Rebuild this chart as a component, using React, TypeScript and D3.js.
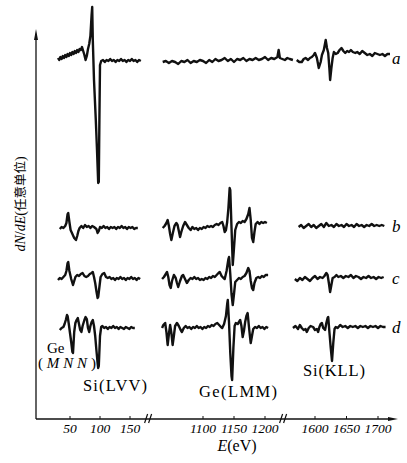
import React from "react";
import { scaleLinear, line } from "d3";

// energies (eV) and dN/dE readings, relative to each trace's own baseline
const aLow = [[30,2],[32,0],[34,3],[36,1],[38,4],[40,2],[42,5],[44,3],[46,6],[48,4],[50,7],[52,5],[54,8],[56,6],[58,9],[60,7],[62,10],[64,8],[66,11],[68,10],[70,13],[72,9],[74,5],[76,0],[78,4],[80,11],[82,16],[84,24],[86,45],[87,53],[88,20],[90,-20],[93,-60],[95,-90],[97,-123],[98,-122],[99,-60],[100,-5],[102,-1],[105,0],[108,-2],[111,0],[114,-1],[117,1],[120,-1],[123,0],[126,-2],[129,0],[132,-1],[135,1],[138,-1],[141,0],[144,-2],[147,0],[150,-1],[153,1],[156,-1],[159,0],[162,-2],[165,0],[168,-1]];
const aMid = [[1035,-2],[1040,-1],[1045,-3],[1050,-1],[1055,-2],[1060,-4],[1065,-1],[1070,-2],[1075,0],[1080,-3],[1085,-1],[1090,-2],[1095,0],[1100,-1],[1105,-3],[1110,0],[1115,-2],[1120,1],[1125,-1],[1130,0],[1135,2],[1140,-1],[1145,1],[1150,-2],[1155,1],[1160,0],[1165,2],[1170,-1],[1175,1],[1180,0],[1185,2],[1190,0],[1195,1],[1200,3],[1205,0],[1210,2],[1215,1],[1220,3],[1222,10],[1224,2],[1228,1],[1232,0],[1236,2],[1240,1],[1245,0]];
const aHigh = [[1571,0],[1575,-2],[1579,-2],[1582,1],[1585,2],[1589,0],[1592,2],[1595,3],[1598,5],[1600,7],[1603,2],[1606,-8],[1609,-2],[1611,5],[1614,10],[1617,20],[1619,12],[1621,7],[1623,-10],[1624,-20],[1626,-8],[1628,2],[1630,8],[1633,6],[1636,7],[1639,10],[1642,12],[1645,9],[1648,7],[1651,9],[1654,8],[1657,10],[1660,8],[1664,7],[1667,8],[1671,6],[1675,9],[1679,7],[1683,5],[1687,6],[1691,4],[1695,7],[1699,6],[1703,5],[1707,6],[1711,4],[1715,6],[1719,6]];

const bLow = [[33,-1],[36,1],[39,0],[42,2],[44,5],[46,14],[47,15],[49,6],[51,-2],[54,-6],[57,-10],[60,-12],[62,-8],[64,-3],[66,0],[69,2],[72,0],[75,3],[78,1],[81,2],[84,0],[87,2],[90,1],[92,0],[94,-1],[96,-5],[98,-3],[100,1],[103,0],[106,2],[109,0],[112,1],[115,-1],[118,1],[121,0],[124,1],[127,-1],[130,1],[133,0],[136,2],[139,0],[142,1],[145,-1],[148,1],[151,0],[154,1],[157,-1],[160,0],[163,0]];
const bMid = [[1035,0],[1038,2],[1041,5],[1043,8],[1045,2],[1047,-6],[1049,-12],[1051,-6],[1054,2],[1057,5],[1059,3],[1061,-3],[1063,-9],[1065,-4],[1068,2],[1071,6],[1074,3],[1077,0],[1080,-2],[1083,1],[1086,-1],[1089,0],[1092,-2],[1095,0],[1098,-1],[1101,1],[1104,0],[1107,2],[1110,1],[1113,2],[1116,1],[1119,3],[1122,4],[1125,3],[1128,5],[1131,6],[1133,2],[1135,-4],[1137,-2],[1139,6],[1141,20],[1143,40],[1144,38],[1146,0],[1148,-37],[1150,-20],[1152,-2],[1155,4],[1158,6],[1161,5],[1164,7],[1167,6],[1170,9],[1173,14],[1175,20],[1177,8],[1179,-10],[1181,-14],[1183,-4],[1185,4],[1188,6],[1191,4],[1194,6],[1197,5],[1200,6],[1203,5]];
const bHigh = [[1574,1],[1578,3],[1582,0],[1586,2],[1590,4],[1594,1],[1598,3],[1602,0],[1606,2],[1610,4],[1614,1],[1618,5],[1622,2],[1626,3],[1630,1],[1634,4],[1638,2],[1642,3],[1646,1],[1650,4],[1654,2],[1658,3],[1662,1],[1666,4],[1670,2],[1674,3],[1678,1],[1682,3],[1686,2],[1690,4],[1694,2],[1698,3],[1702,2],[1706,3],[1710,2]];

const cLow = [[30,-1],[33,1],[36,0],[39,2],[42,4],[44,8],[46,16],[47,17],[49,8],[52,0],[55,-6],[57,-2],[59,2],[62,4],[65,3],[68,5],[71,6],[74,3],[77,2],[80,3],[83,5],[86,6],[88,7],[90,2],[92,-4],[94,-12],[96,-19],[97,-18],[99,-8],[101,2],[104,5],[107,6],[110,2],[113,1],[116,2],[119,0],[122,1],[125,-1],[128,1],[131,0],[134,2],[137,0],[140,1],[143,-1],[146,1],[149,0],[152,2],[155,0],[158,1],[161,-1],[164,1],[167,0]];
const cMid = [[1034,0],[1037,2],[1040,5],[1042,7],[1044,2],[1046,-6],[1048,-9],[1050,-2],[1053,4],[1056,1],[1058,-4],[1060,-8],[1063,-2],[1066,3],[1068,4],[1071,0],[1074,-4],[1077,-1],[1080,1],[1083,0],[1086,2],[1089,0],[1092,1],[1095,-1],[1098,0],[1101,-1],[1104,1],[1107,0],[1110,2],[1113,1],[1116,3],[1119,2],[1122,4],[1125,6],[1127,7],[1130,3],[1133,1],[1135,0],[1138,8],[1141,20],[1142,22],[1144,5],[1146,-15],[1148,-26],[1150,-15],[1152,-3],[1155,-1],[1158,1],[1161,0],[1164,2],[1167,3],[1170,6],[1173,11],[1175,8],[1177,-2],[1179,-9],[1181,-11],[1183,-4],[1186,1],[1189,2],[1192,1],[1195,3],[1198,2],[1201,4],[1205,4]];
const cHigh = [[1568,0],[1572,-2],[1576,1],[1580,-1],[1584,2],[1588,0],[1592,-2],[1596,1],[1600,3],[1604,0],[1608,2],[1612,1],[1615,3],[1618,6],[1620,4],[1622,-4],[1624,-13],[1626,-6],[1628,1],[1631,2],[1634,4],[1637,2],[1641,3],[1645,1],[1649,3],[1653,2],[1657,4],[1661,1],[1665,3],[1669,2],[1673,0],[1677,2],[1681,1],[1685,3],[1689,1],[1693,2],[1697,0],[1701,2],[1705,1],[1709,2]];

const dLow = [[33,-2],[36,0],[39,1],[41,4],[43,8],[45,13],[46,12],[48,4],[50,-5],[52,-14],[54,-24],[55,-25],[57,-4],[59,5],[61,8],[63,10],[65,4],[67,-2],[69,-4],[71,2],[74,8],[76,11],[78,9],[80,0],[82,-4],[84,2],[86,6],[88,8],[90,2],[92,-8],[94,-22],[96,-35],[97,-40],[98,-38],[100,-8],[102,1],[104,2],[107,0],[110,1],[113,-1],[116,1],[119,0],[122,2],[125,0],[128,1],[131,-1],[134,1],[137,0],[140,-1],[143,1],[146,0],[149,-1],[152,1],[155,0],[158,0]];
const dMid = [[1034,0],[1036,3],[1039,5],[1041,-4],[1043,-17],[1045,-6],[1047,3],[1049,-5],[1051,-17],[1053,-8],[1055,2],[1058,5],[1061,2],[1064,-2],[1066,-4],[1069,0],[1072,2],[1075,0],[1078,1],[1081,-1],[1084,1],[1087,0],[1090,2],[1093,0],[1096,1],[1099,-1],[1102,1],[1105,0],[1108,2],[1111,1],[1114,3],[1117,2],[1120,4],[1123,5],[1126,3],[1129,1],[1131,0],[1134,4],[1137,12],[1139,24],[1140,28],[1142,5],[1144,-25],[1146,-48],[1147,-52],[1149,-20],[1151,2],[1153,5],[1156,4],[1158,6],[1160,8],[1162,2],[1164,-9],[1166,-3],[1168,6],[1170,12],[1172,15],[1174,2],[1176,-10],[1177,-15],[1179,-8],[1181,-1],[1184,1],[1187,0],[1190,2],[1193,0],[1196,1],[1199,-1],[1202,1],[1205,0]];
const dHigh = [[1565,0],[1569,2],[1573,-1],[1576,3],[1579,0],[1582,-2],[1585,-1],[1587,-4],[1590,0],[1593,2],[1597,1],[1600,-2],[1603,-1],[1605,-4],[1607,1],[1609,4],[1611,5],[1613,0],[1616,-2],[1618,5],[1620,10],[1621,11],[1623,-5],[1625,-20],[1627,-33],[1629,-15],[1631,-1],[1633,1],[1636,0],[1640,3],[1644,1],[1648,2],[1652,0],[1656,2],[1660,1],[1664,2],[1668,0],[1672,2],[1676,1],[1680,2],[1684,0],[1688,2],[1692,1],[1696,2],[1700,0],[1704,2],[1708,1],[1712,1]];

const traceNames = ["a", "b", "c", "d"];
const traceOffsets = [359, 191, 140, 91];

const ticksLow = [50, 100, 150];
const ticksMid = [1100, 1150, 1200];
const ticksHigh = [1600, 1650, 1700];

const W = 407;
const H = 463;
const AXIS_X = 36;
const AXIS_Y = 419;

export default function App() {
  // broken energy axis: three linear pieces
  const xLow = scaleLinear().domain([50, 150]).range([70, 130]);
  const xMid = scaleLinear().domain([1100, 1200]).range([203, 265]);
  const xHigh = scaleLinear().domain([1600, 1700]).range([315, 378]);
  const y = scaleLinear().domain([0, 389]).range([AXIS_Y, 30]);

  const traces = [
    [aLow, aMid, aHigh],
    [bLow, bMid, bHigh],
    [cLow, cMid, cHigh],
    [dLow, dMid, dHigh],
  ];
  const pieces = [xLow, xMid, xHigh];

  const serif = "'Liberation Serif', 'DejaVu Serif', serif";
  const labelY = [64, 232, 284, 333];

  const tickGroups = [
    [xLow, ticksLow],
    [xMid, ticksMid],
    [xHigh, ticksHigh],
  ];

  const breaks = [xLow(181), xMid(1230)];

  return (
    <svg
      width={W}
      height={H}
      style={{ position: "absolute", left: 0, top: 0, background: "#fff" }}
      fontFamily={serif}
    >
      {traces.map((segs, i) =>
        segs.map((pts, j) => {
          const sx = pieces[j];
          const path = line()
            .x((d) => sx(d[0]))
            .y((d) => y(traceOffsets[i] + d[1]))(pts);
          return (
            <path
              key={`${i}-${j}`}
              d={path}
              fill="none"
              stroke="#111"
              strokeWidth={2.4}
              strokeLinejoin="round"
            />
          );
        })
      )}

      {traceNames.map((n, i) => (
        <text key={n} x={392} y={labelY[i]} fontSize={17} fontStyle="italic">
          {n}
        </text>
      ))}

      {/* axes */}
      <line x1={AXIS_X} y1={AXIS_Y} x2={AXIS_X} y2={34} stroke="#111" strokeWidth={1.3} />
      <path d={`M${AXIS_X - 2},40 L${AXIS_X},29 L${AXIS_X + 2},40 Z`} fill="#111" />
      <line x1={AXIS_X} y1={AXIS_Y} x2={392} y2={AXIS_Y} stroke="#111" strokeWidth={1.3} />
      <path d={`M388,${AXIS_Y - 2} L398,${AXIS_Y} L388,${AXIS_Y + 2} Z`} fill="#111" />

      {tickGroups.map(([sx, ticks], g) =>
        ticks.map((t) => (
          <g key={`${g}-${t}`}>
            <line x1={sx(t)} x2={sx(t)} y1={AXIS_Y} y2={AXIS_Y - 3} stroke="#111" strokeWidth={1} />
            <text x={sx(t)} y={433} fontSize={13.5} fontStyle="italic" textAnchor="middle">
              {t}
            </text>
          </g>
        ))
      )}

      {breaks.map((bx, i) => (
        <g key={i} stroke="#111" strokeWidth={1.2}>
          <line x1={bx - 4} y1={AXIS_Y + 4} x2={bx - 1} y2={AXIS_Y - 5} />
          <line x1={bx} y1={AXIS_Y + 4} x2={bx + 3} y2={AXIS_Y - 5} />
        </g>
      ))}

      <text x={237} y={451} fontSize={16} textAnchor="middle">
        <tspan fontStyle="italic">E</tspan>(eV)
      </text>

      <text transform="translate(25,204) rotate(-90)" fontSize={14} textAnchor="middle">
        <tspan fontStyle="italic">dN</tspan>/<tspan fontStyle="italic">dE</tspan>(
        <tspan fontFamily="'Noto Sans CJK SC'" fontSize={12.5}>任意单位</tspan>)
      </text>

      {/* peak annotations */}
      <text x={47} y={353} fontSize={15}>Ge</text>
      <text x={38} y={368} fontSize={15} textLength={58} lengthAdjust="spacing">
        (<tspan fontStyle="italic">MNN</tspan>)
      </text>
      <text x={83} y={391} fontSize={16.5} textLength={64} lengthAdjust="spacing">Si(LVV)</text>
      <text x={199} y={397} fontSize={16.5} textLength={78} lengthAdjust="spacing">Ge(LMM)</text>
      <text x={303} y={376} fontSize={16.5} textLength={62} lengthAdjust="spacing">Si(KLL)</text>
    </svg>
  );
}
